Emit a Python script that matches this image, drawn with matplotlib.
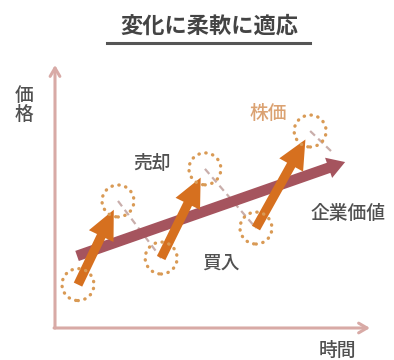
import matplotlib
matplotlib.use("Agg")
from matplotlib import pyplot as plt
from matplotlib.lines import Line2D

plt.rcParams['font.family'] = ['Noto Sans CJK JP', 'DejaVu Sans']

# turning points of the share price (time, price)
buy_t = [0.73, 3.37, 6.38]
buy_p = [1.65, 2.66, 3.80]
sell_t = [2.00, 4.76, 8.10]
sell_p = [4.83, 6.05, 7.49]
tail_t = [8.83]
tail_p = [6.65]

# enterprise value trend (start, end)
value_t = [0.70, 9.21]
value_p = [2.74, 6.31]

title = "変化に柔軟に適応"
labels = {"sell": "売却", "buy": "買入", "price": "株価", "value": "企業価値",
		  "x": "時間", "y": "価\n格"}

orange = "#d6701f"
mauve = "#a5545e"
dot_col = "#d99a55"
axis_col = "#d8aaa6"
dash_col = "#c9aeab"
text_col = "#505050"

fig = plt.figure(figsize=(3.94, 3.6), dpi=100)
ax = fig.add_axes([55 / 394, 32 / 360, 315 / 394, 263 / 360])
ax.set_xlim(0, 10)
ax.set_ylim(0, 10)
ax.axis("off")

# axes arrows
ax.annotate("", xy=(0, 1.0), xytext=(0, 0), xycoords="axes fraction",
	arrowprops=dict(arrowstyle="->,head_length=0.6,head_width=0.35", color=axis_col,
		lw=2.2, shrinkA=0, shrinkB=0))
ax.annotate("", xy=(1.0, 0), xytext=(-0.003, 0), xycoords="axes fraction",
	arrowprops=dict(arrowstyle="->,head_length=0.6,head_width=0.35", color=axis_col,
		lw=2.2, shrinkA=0, shrinkB=0))

# dashed falls: each peak down to next trough
next_t = buy_t[1:] + tail_t
next_p = buy_p[1:] + tail_p
for t0, p0, t1, p1 in zip(sell_t, sell_p, next_t, next_p):
	ax.plot([t0, t1], [p0, p1], color=dash_col, lw=1.6, ls=(0, (3, 2)), zorder=2)

# enterprise value arrow
ax.annotate("", xy=(value_t[1], value_p[1]), xytext=(value_t[0], value_p[0]),
	arrowprops=dict(arrowstyle="simple,head_length=0.9,head_width=1.1,tail_width=0.55",
		color=mauve, lw=0, shrinkA=0, shrinkB=0, mutation_scale=14), zorder=3)

# rises: trough to peak
for t0, p0, t1, p1 in zip(buy_t, buy_p, sell_t, sell_p):
	ax.annotate("", xy=(t1, p1), xytext=(t0, p0),
		arrowprops=dict(arrowstyle="simple,head_length=1.5,head_width=1.4,tail_width=0.48",
			color=orange, lw=0, shrinkA=0, shrinkB=7, mutation_scale=14), zorder=4)

# dotted circles at turning points
sc = ax.scatter(buy_t + sell_t, buy_p + sell_p, s=23 ** 2, facecolors="none",
	edgecolors=dot_col, linewidths=2.4, linestyles=[(0, (0.1, 2.0))], zorder=5)
sc.set_capstyle("round")

# texts
kw = dict(fontsize=13.5, ha="center", va="center", fontweight="medium")
ax.text(3.08, 6.25, labels["sell"], color=text_col, **kw)
ax.text(5.27, 2.48, labels["buy"], color=text_col, **kw)
ax.text(6.76, 8.17, labels["price"], color="#dba272", **kw)
ax.text(9.3, 4.37, labels["value"], color=text_col, **kw)

fig.text(337 / 394, 1 - 350 / 360, labels["x"], color=text_col, **kw)
fig.text(24 / 394, 1 - 105 / 360, labels["y"], color=text_col, linespacing=1.0, **kw)

fig.text(209 / 394, 1 - 26 / 360, title, fontsize=16, fontweight="bold",
	color="#444444", ha="center", va="center")
fig.add_artist(Line2D([107 / 394, 310 / 394], [1 - 43 / 360, 1 - 43 / 360],
	color="#555555", lw=2.2, transform=fig.transFigure))

fig.savefig("out.png", dpi=100)
